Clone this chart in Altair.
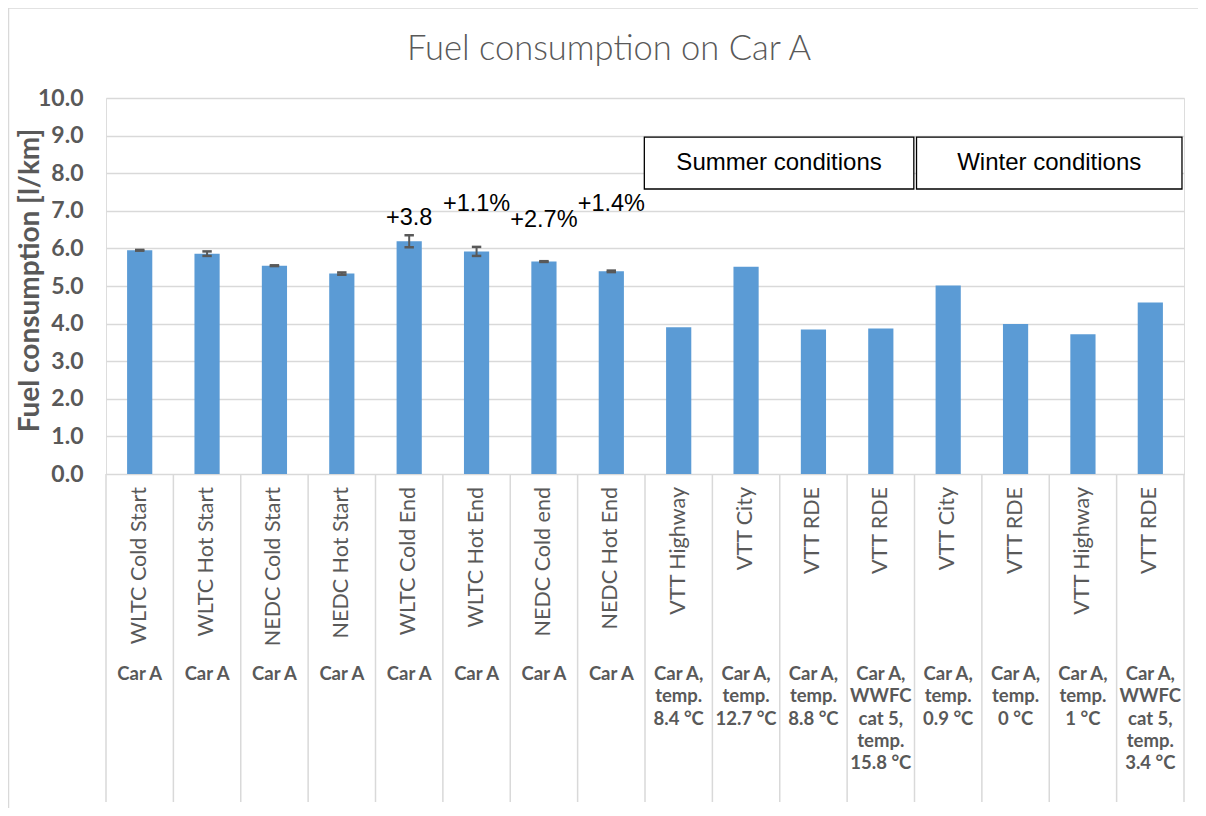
import altair as alt
import pandas as pd

categories = ["WLTC Cold Start", "WLTC Hot Start", "NEDC Cold Start", "NEDC Hot Start",
              "WLTC Cold End", "WLTC Hot End", "NEDC Cold end", "NEDC Hot End",
              "VTT Highway", "VTT City", "VTT RDE", "VTT RDE",
              "VTT City", "VTT RDE", "VTT Highway", "VTT RDE"]
groups = [["Car A"]] * 8 + [
    ["Car A,", "temp.", "8.4 °C"], ["Car A,", "temp.", "12.7 °C"],
    ["Car A,", "temp.", "8.8 °C"], ["Car A,", "WWFC", "cat 5,", "temp.", "15.8 °C"],
    ["Car A,", "temp.", "0.9 °C"], ["Car A,", "temp.", "0 °C"],
    ["Car A,", "temp.", "1 °C"], ["Car A,", "WWFC", "cat 5,", "temp.", "3.4 °C"]]
fuel = [5.95, 5.86, 5.54, 5.33, 6.19, 5.92, 5.65, 5.39,
        3.90, 5.51, 3.84, 3.87, 5.01, 3.99, 3.72, 4.56]
err = [0.01, 0.06, 0.01, 0.03, 0.16, 0.12, 0.01, 0.02,
       0, 0, 0, 0, 0, 0, 0, 0]

title_text = "Fuel consumption on Car A"
y_title = "Fuel consumption [l/km]"
y_ticks = [0, 1, 2, 3, 4, 5, 6, 7, 8, 9, 10]
ann_text = ["+3.8", "+1.1%", "+2.7%", "+1.4%"]
ann_idx = [4, 5, 6, 7]
ann_y = [6.62, 6.99, 6.58, 6.99]
ann_dx = [-6, 0, 0, 0]

box_labels = ["Summer conditions", "Winter conditions"]
box_start = [7.99, 12.03]
box_end = [11.99, 15.97]
box_low = [7.58, 7.58]
box_high = [8.96, 8.96]
box_text_y = [8.28, 8.28]

GRAY = "#595959"
LIGHT = "#d9d9d9"
BLUE = "#5b9bd5"
SANS = "Lato, 'Open Sans', sans-serif"
ARIAL = "'Liberation Sans', Arial, sans-serif"

df = pd.DataFrame({"i": list(range(len(categories))), "cat": categories,
                   "fuel": fuel, "err": err})
grp_rows = pd.DataFrame([{"i": i, "k": k, "line": s}
                         for i, g in enumerate(groups) for k, s in enumerate(g)])
bounds = pd.DataFrame({"b": list(range(len(categories) + 1))})
ann = pd.DataFrame({"t": ann_text, "i": ann_idx, "y": ann_y, "dx": ann_dx})
boxes = pd.DataFrame({"label": box_labels, "s": box_start, "e": box_end,
                      "lo": box_low, "hi": box_high, "ty": box_text_y})
title_df = pd.DataFrame({"t": [title_text]})

XS = alt.Scale(domain=[0, len(categories)], nice=False, zero=False, padding=0)
YS = alt.Scale(domain=[0, 10], nice=False, padding=0)
YAX = alt.Axis(values=y_ticks, format=".1f",
               labelFont=SANS, labelFontWeight="bold",
               labelFontSize=23, labelColor=GRAY, labelPadding=23,
               labelOverlap=False,
               ticks=False, domain=False, grid=True,
               gridColor=LIGHT, gridWidth=1.5,
               title=y_title, titleFont=SANS,
               titleFontSize=28, titleFontWeight="bold",
               titleColor=GRAY, titleX=-76, titleY=182,
               titleAlign="center", titleBaseline="middle",
               titleAngle=270)


def Y(field):
    return alt.Y(field, scale=YS, axis=YAX, title=y_title)


def X(field):
    return alt.X(field, scale=XS, axis=None)


base = alt.Chart(df)

bars = base.transform_calculate(
    x0="datum.i + 0.313", x1="datum.i + 0.687", z="0"
).mark_rect(color=BLUE).encode(
    x=X("x0:Q"), x2="x1:Q", y=Y("fuel:Q"), y2="z:Q")

eb = base.transform_filter("datum.err > 0").transform_calculate(
    xc="datum.i + 0.5", xl="datum.i + 0.43", xr="datum.i + 0.57",
    lo="datum.fuel - datum.err", hi="datum.fuel + datum.err")
err_v = eb.mark_rule(color=GRAY, strokeWidth=2).encode(
    x=X("xc:Q"), y=Y("lo:Q"), y2="hi:Q")
cap_hi = eb.mark_rule(color=GRAY, strokeWidth=2.5).encode(
    x=X("xl:Q"), x2="xr:Q", y=Y("hi:Q"))
cap_lo = eb.mark_rule(color=GRAY, strokeWidth=2.5).encode(
    x=X("xl:Q"), x2="xr:Q", y=Y("lo:Q"))

seps = alt.Chart(bounds).mark_rule(color=LIGHT, strokeWidth=1.5).encode(
    x=X("b:Q"), y=alt.value(376), y2=alt.value(704))

cat_labels = base.transform_calculate(xc="datum.i + 0.5").mark_text(
    angle=270, align="right", baseline="middle", font=SANS,
    fontSize=21.5, color=GRAY).encode(
    x=X("xc:Q"), y=alt.value(389), text="cat:N")

grp_layers = []
for k in range(max(len(g) for g in groups)):
    grp_layers.append(
        alt.Chart(grp_rows).transform_filter(f"datum.k == {k}")
        .transform_calculate(xc="datum.i + 0.5")
        .mark_text(align="center", baseline="top", font=SANS,
                   fontWeight="bold", fontSize=18.5, color=GRAY)
        .encode(x=X("xc:Q"), y=alt.value(567 + 22.3 * k), text="line:N"))

ann_layer = alt.Chart(ann).transform_calculate(xc="datum.i + 0.5").mark_text(
    align="center", baseline="alphabetic", font=ARIAL,
    fontSize=23.5, color="black").encode(
    x=X("xc:Q"), y=Y("y:Q"), text="t:N", xOffset="dx:Q")

box_rect = alt.Chart(boxes).mark_rect(fill="white", stroke="black",
                                      strokeWidth=1.3).encode(
    x=X("s:Q"), x2="e:Q", y=Y("lo:Q"), y2="hi:Q")
box_text = alt.Chart(boxes).transform_calculate(
    xm="(datum.s + datum.e) / 2").mark_text(
    align="center", baseline="middle", font=ARIAL,
    fontSize=24, color="black").encode(
    x=X("xm:Q"), y=Y("ty:Q"), text="label:N")

title_mark = alt.Chart(title_df).mark_text(
    align="center", baseline="alphabetic", font=SANS, fontWeight=300,
    fontSize=34.5, color=GRAY).encode(
    x=alt.value(503), y=alt.value(-38), text="t:N")

border_l = alt.Chart(title_df).mark_rule(color=LIGHT, strokeWidth=1.5).encode(
    x=alt.value(-97.5), y=alt.value(-90), y2=alt.value(720))
border_t = alt.Chart(title_df).mark_rule(color=LIGHT, strokeWidth=1.5).encode(
    x=alt.value(-97.5), x2=alt.value(1110), y=alt.value(-90))

chart = alt.layer(
    border_l, border_t, seps, bars, err_v, cap_hi, cap_lo, cat_labels,
    *grp_layers, ann_layer, box_rect, box_text, title_mark
).properties(
    width=1078, height=376,
    autosize=alt.AutoSizeParams(type="none"),
    padding={"left": 98, "top": 90, "right": 14, "bottom": 334},
).configure_view(stroke=None).configure(background="white")

chart.save("out.html", embed_options={"renderer": "svg", "actions": False})
